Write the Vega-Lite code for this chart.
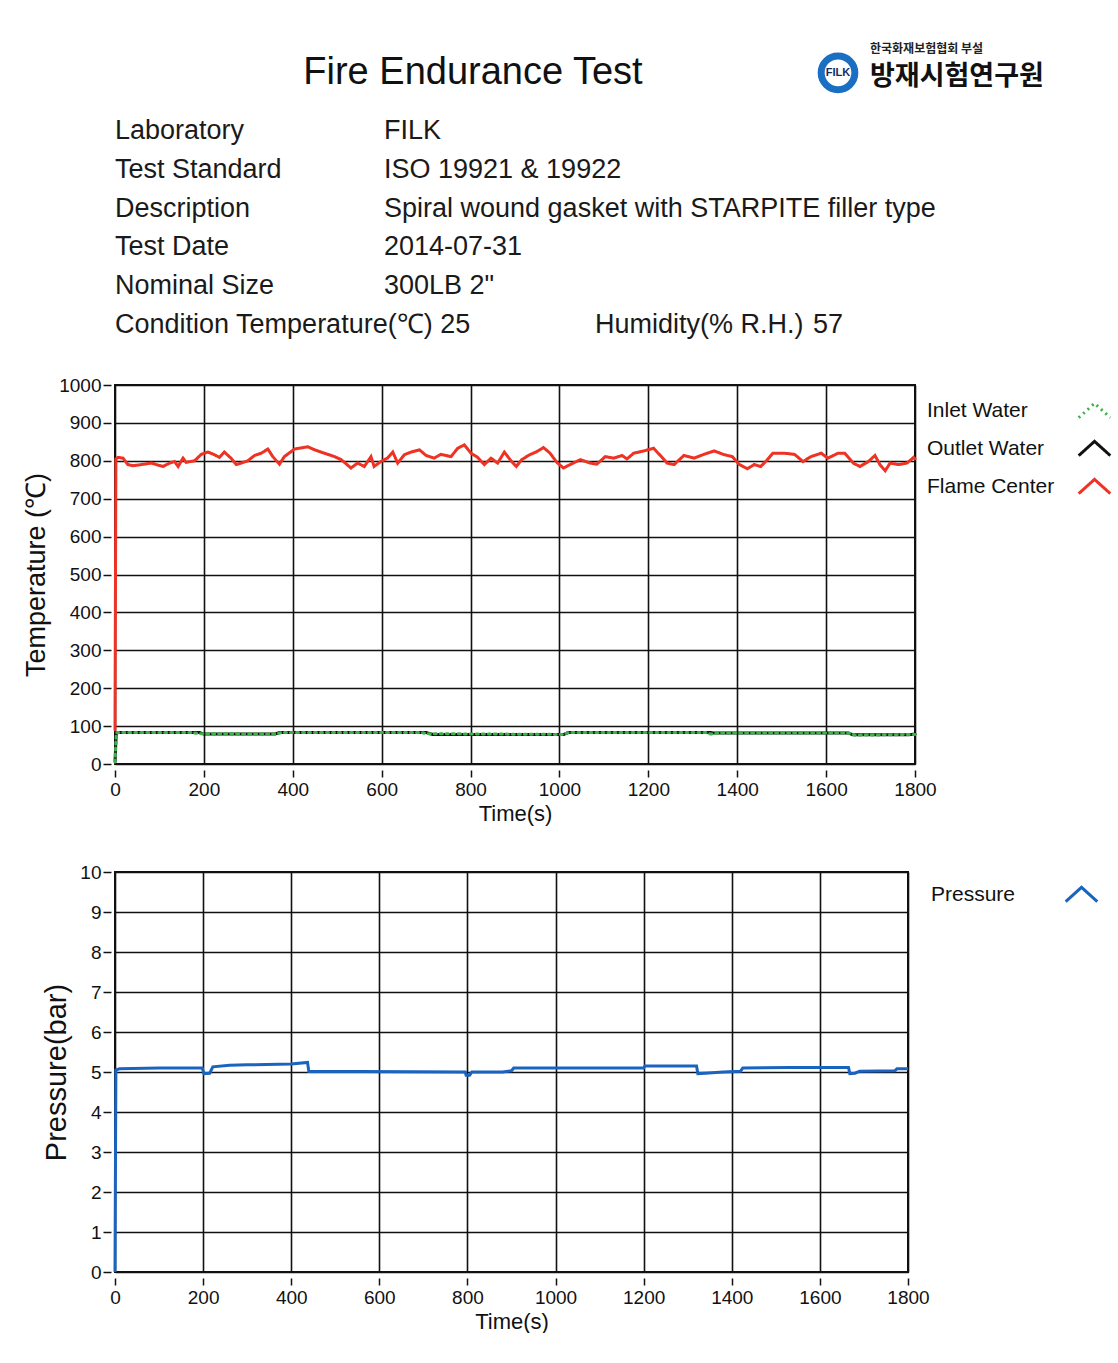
{
  "$schema": "https://vega.github.io/schema/vega-lite/v6.json",
  "background": "white",
  "padding": {"left": 21, "top": 34, "right": 0, "bottom": 0},
  "spacing": 37,
  "resolve": {
    "scale": {"color": "independent", "strokeDash": "independent"},
    "legend": {"color": "independent", "strokeDash": "independent"}
  },
  "config": {
    "font": "Liberation Sans",
    "view": {"stroke": "#111111", "strokeWidth": 2},
    "axis": {
      "domain": false,
      "grid": true,
      "gridColor": "#111111",
      "gridWidth": 1.6,
      "gridOpacity": 1,
      "tickColor": "#111111",
      "tickWidth": 1.5,
      "labelColor": "#111111",
      "titleColor": "#111111",
      "labelFont": "Liberation Sans",
      "labelFontSize": 19,
      "labelFlush": false,
      "format": "d",
      "titleFont": "Liberation Sans",
      "titleFontWeight": "normal"
    },
    "legend": {
      "labelFont": "Liberation Sans",
      "labelFontSize": 21,
      "labelColor": "#111111"
    }
  },
  "datasets": {
    "header": [
      {"kind": "title", "col": 2, "line": -0.5, "text": "Fire Endurance Test"},
      {"kind": "info", "col": 0, "line": 1, "text": "Laboratory"},
      {"kind": "info", "col": 1, "line": 1, "text": "FILK"},
      {"kind": "info", "col": 0, "line": 2, "text": "Test Standard"},
      {"kind": "info", "col": 1, "line": 2, "text": "ISO 19921 & 19922"},
      {"kind": "info", "col": 0, "line": 3, "text": "Description"},
      {"kind": "info", "col": 1, "line": 3, "text": "Spiral wound gasket with STARPITE filler type"},
      {"kind": "info", "col": 0, "line": 4, "text": "Test Date"},
      {"kind": "info", "col": 1, "line": 4, "text": "2014-07-31"},
      {"kind": "info", "col": 0, "line": 5, "text": "Nominal Size"},
      {"kind": "info", "col": 1, "line": 5, "text": "300LB 2\""},
      {"kind": "info", "col": 0, "line": 6, "text": "Condition Temperature(℃) 25"},
      {"kind": "info", "col": 3, "line": 6, "text": "Humidity(% R.H.)"},
      {"kind": "info", "col": 4, "line": 6, "text": "57"},
      {"kind": "ring", "col": 5, "line": -0.5, "text": "FILK"},
      {"kind": "logo", "col": 6, "line": -0.4, "text": "방재시험연구원"},
      {"kind": "logosmall", "col": 6, "line": -1.12, "text": "한국화재보험협회 부설"}
    ],
    "temp": [
      {"series": "Flame Center", "t": 0, "v": 90},
      {"series": "Flame Center", "t": 2, "v": 805},
      {"series": "Flame Center", "t": 7, "v": 809},
      {"series": "Flame Center", "t": 18, "v": 807},
      {"series": "Flame Center", "t": 29, "v": 790},
      {"series": "Flame Center", "t": 40, "v": 787},
      {"series": "Flame Center", "t": 59, "v": 790},
      {"series": "Flame Center", "t": 82, "v": 794},
      {"series": "Flame Center", "t": 93, "v": 790},
      {"series": "Flame Center", "t": 108, "v": 785},
      {"series": "Flame Center", "t": 123, "v": 794},
      {"series": "Flame Center", "t": 134, "v": 798},
      {"series": "Flame Center", "t": 142, "v": 785},
      {"series": "Flame Center", "t": 153, "v": 807},
      {"series": "Flame Center", "t": 160, "v": 796},
      {"series": "Flame Center", "t": 179, "v": 800},
      {"series": "Flame Center", "t": 194, "v": 817},
      {"series": "Flame Center", "t": 209, "v": 823},
      {"series": "Flame Center", "t": 224, "v": 816},
      {"series": "Flame Center", "t": 235, "v": 809},
      {"series": "Flame Center", "t": 246, "v": 823},
      {"series": "Flame Center", "t": 261, "v": 807},
      {"series": "Flame Center", "t": 273, "v": 790},
      {"series": "Flame Center", "t": 284, "v": 794},
      {"series": "Flame Center", "t": 299, "v": 800},
      {"series": "Flame Center", "t": 314, "v": 814},
      {"series": "Flame Center", "t": 329, "v": 820},
      {"series": "Flame Center", "t": 344, "v": 831},
      {"series": "Flame Center", "t": 355, "v": 811},
      {"series": "Flame Center", "t": 370, "v": 791},
      {"series": "Flame Center", "t": 381, "v": 811},
      {"series": "Flame Center", "t": 404, "v": 831},
      {"series": "Flame Center", "t": 434, "v": 837},
      {"series": "Flame Center", "t": 449, "v": 829},
      {"series": "Flame Center", "t": 471, "v": 820},
      {"series": "Flame Center", "t": 494, "v": 811},
      {"series": "Flame Center", "t": 509, "v": 803},
      {"series": "Flame Center", "t": 531, "v": 781},
      {"series": "Flame Center", "t": 546, "v": 794},
      {"series": "Flame Center", "t": 561, "v": 785},
      {"series": "Flame Center", "t": 576, "v": 811},
      {"series": "Flame Center", "t": 583, "v": 785},
      {"series": "Flame Center", "t": 598, "v": 798},
      {"series": "Flame Center", "t": 613, "v": 807},
      {"series": "Flame Center", "t": 625, "v": 823},
      {"series": "Flame Center", "t": 636, "v": 794},
      {"series": "Flame Center", "t": 651, "v": 816},
      {"series": "Flame Center", "t": 666, "v": 823},
      {"series": "Flame Center", "t": 685, "v": 829},
      {"series": "Flame Center", "t": 700, "v": 814},
      {"series": "Flame Center", "t": 718, "v": 807},
      {"series": "Flame Center", "t": 733, "v": 817},
      {"series": "Flame Center", "t": 756, "v": 811},
      {"series": "Flame Center", "t": 771, "v": 833},
      {"series": "Flame Center", "t": 786, "v": 842},
      {"series": "Flame Center", "t": 801, "v": 820},
      {"series": "Flame Center", "t": 816, "v": 809},
      {"series": "Flame Center", "t": 831, "v": 790},
      {"series": "Flame Center", "t": 846, "v": 807},
      {"series": "Flame Center", "t": 861, "v": 794},
      {"series": "Flame Center", "t": 876, "v": 823},
      {"series": "Flame Center", "t": 891, "v": 800},
      {"series": "Flame Center", "t": 903, "v": 785},
      {"series": "Flame Center", "t": 915, "v": 803},
      {"series": "Flame Center", "t": 933, "v": 816},
      {"series": "Flame Center", "t": 949, "v": 824},
      {"series": "Flame Center", "t": 964, "v": 835},
      {"series": "Flame Center", "t": 979, "v": 820},
      {"series": "Flame Center", "t": 994, "v": 796},
      {"series": "Flame Center", "t": 1009, "v": 781},
      {"series": "Flame Center", "t": 1024, "v": 790},
      {"series": "Flame Center", "t": 1047, "v": 803},
      {"series": "Flame Center", "t": 1069, "v": 794},
      {"series": "Flame Center", "t": 1084, "v": 791},
      {"series": "Flame Center", "t": 1103, "v": 811},
      {"series": "Flame Center", "t": 1122, "v": 807},
      {"series": "Flame Center", "t": 1141, "v": 814},
      {"series": "Flame Center", "t": 1152, "v": 805},
      {"series": "Flame Center", "t": 1167, "v": 820},
      {"series": "Flame Center", "t": 1190, "v": 826},
      {"series": "Flame Center", "t": 1212, "v": 833},
      {"series": "Flame Center", "t": 1227, "v": 814},
      {"series": "Flame Center", "t": 1242, "v": 794},
      {"series": "Flame Center", "t": 1258, "v": 790},
      {"series": "Flame Center", "t": 1280, "v": 814},
      {"series": "Flame Center", "t": 1303, "v": 807},
      {"series": "Flame Center", "t": 1325, "v": 817},
      {"series": "Flame Center", "t": 1348, "v": 826},
      {"series": "Flame Center", "t": 1371, "v": 816},
      {"series": "Flame Center", "t": 1389, "v": 811},
      {"series": "Flame Center", "t": 1405, "v": 790},
      {"series": "Flame Center", "t": 1423, "v": 779},
      {"series": "Flame Center", "t": 1438, "v": 790},
      {"series": "Flame Center", "t": 1453, "v": 785},
      {"series": "Flame Center", "t": 1468, "v": 803},
      {"series": "Flame Center", "t": 1480, "v": 820},
      {"series": "Flame Center", "t": 1506, "v": 820},
      {"series": "Flame Center", "t": 1529, "v": 817},
      {"series": "Flame Center", "t": 1548, "v": 798},
      {"series": "Flame Center", "t": 1566, "v": 811},
      {"series": "Flame Center", "t": 1589, "v": 820},
      {"series": "Flame Center", "t": 1604, "v": 807},
      {"series": "Flame Center", "t": 1627, "v": 820},
      {"series": "Flame Center", "t": 1642, "v": 820},
      {"series": "Flame Center", "t": 1661, "v": 794},
      {"series": "Flame Center", "t": 1676, "v": 785},
      {"series": "Flame Center", "t": 1695, "v": 798},
      {"series": "Flame Center", "t": 1710, "v": 814},
      {"series": "Flame Center", "t": 1721, "v": 790},
      {"series": "Flame Center", "t": 1733, "v": 774},
      {"series": "Flame Center", "t": 1744, "v": 794},
      {"series": "Flame Center", "t": 1763, "v": 790},
      {"series": "Flame Center", "t": 1782, "v": 794},
      {"series": "Flame Center", "t": 1797, "v": 809},
      {"series": "Flame Center", "t": 1800, "v": 805},
      {"series": "Outlet Water", "t": 0, "v": 8},
      {"series": "Outlet Water", "t": 3, "v": 83},
      {"series": "Outlet Water", "t": 190, "v": 83},
      {"series": "Outlet Water", "t": 200, "v": 79},
      {"series": "Outlet Water", "t": 360, "v": 79},
      {"series": "Outlet Water", "t": 370, "v": 83},
      {"series": "Outlet Water", "t": 700, "v": 83},
      {"series": "Outlet Water", "t": 715, "v": 78},
      {"series": "Outlet Water", "t": 1010, "v": 78},
      {"series": "Outlet Water", "t": 1020, "v": 83},
      {"series": "Outlet Water", "t": 1340, "v": 83},
      {"series": "Outlet Water", "t": 1345, "v": 82},
      {"series": "Outlet Water", "t": 1650, "v": 82},
      {"series": "Outlet Water", "t": 1660, "v": 77},
      {"series": "Outlet Water", "t": 1785, "v": 77},
      {"series": "Outlet Water", "t": 1800, "v": 79},
      {"series": "Inlet Water", "t": 0, "v": 5},
      {"series": "Inlet Water", "t": 3, "v": 83},
      {"series": "Inlet Water", "t": 170, "v": 83},
      {"series": "Inlet Water", "t": 190, "v": 80},
      {"series": "Inlet Water", "t": 360, "v": 79},
      {"series": "Inlet Water", "t": 375, "v": 83},
      {"series": "Inlet Water", "t": 690, "v": 83},
      {"series": "Inlet Water", "t": 700, "v": 80},
      {"series": "Inlet Water", "t": 1010, "v": 78},
      {"series": "Inlet Water", "t": 1020, "v": 83},
      {"series": "Inlet Water", "t": 1330, "v": 83},
      {"series": "Inlet Water", "t": 1340, "v": 79},
      {"series": "Inlet Water", "t": 1360, "v": 82},
      {"series": "Inlet Water", "t": 1650, "v": 82},
      {"series": "Inlet Water", "t": 1665, "v": 76},
      {"series": "Inlet Water", "t": 1800, "v": 78}
    ],
    "pressure": [
      {"series": "Pressure", "t": 0, "p": 0},
      {"series": "Pressure", "t": 2, "p": 5.05},
      {"series": "Pressure", "t": 10, "p": 5.08},
      {"series": "Pressure", "t": 100, "p": 5.1},
      {"series": "Pressure", "t": 198, "p": 5.1},
      {"series": "Pressure", "t": 202, "p": 4.96},
      {"series": "Pressure", "t": 215, "p": 4.97},
      {"series": "Pressure", "t": 222, "p": 5.13},
      {"series": "Pressure", "t": 260, "p": 5.17},
      {"series": "Pressure", "t": 300, "p": 5.18},
      {"series": "Pressure", "t": 400, "p": 5.2},
      {"series": "Pressure", "t": 437, "p": 5.24},
      {"series": "Pressure", "t": 440, "p": 5.01},
      {"series": "Pressure", "t": 560, "p": 5.01},
      {"series": "Pressure", "t": 795, "p": 5.0},
      {"series": "Pressure", "t": 797, "p": 4.92},
      {"series": "Pressure", "t": 805, "p": 4.92},
      {"series": "Pressure", "t": 810, "p": 5.0},
      {"series": "Pressure", "t": 880, "p": 5.0},
      {"series": "Pressure", "t": 900, "p": 5.03},
      {"series": "Pressure", "t": 905, "p": 5.1},
      {"series": "Pressure", "t": 1200, "p": 5.1},
      {"series": "Pressure", "t": 1203, "p": 5.15},
      {"series": "Pressure", "t": 1320, "p": 5.15},
      {"series": "Pressure", "t": 1323, "p": 4.96},
      {"series": "Pressure", "t": 1340, "p": 4.97},
      {"series": "Pressure", "t": 1380, "p": 5.0},
      {"series": "Pressure", "t": 1420, "p": 5.02},
      {"series": "Pressure", "t": 1425, "p": 5.1},
      {"series": "Pressure", "t": 1530, "p": 5.11},
      {"series": "Pressure", "t": 1665, "p": 5.11},
      {"series": "Pressure", "t": 1668, "p": 4.96},
      {"series": "Pressure", "t": 1680, "p": 4.97},
      {"series": "Pressure", "t": 1690, "p": 5.02},
      {"series": "Pressure", "t": 1770, "p": 5.03},
      {"series": "Pressure", "t": 1775, "p": 5.08},
      {"series": "Pressure", "t": 1800, "p": 5.08}
    ]
  },
  "vconcat": [
    {
      "width": 800,
      "height": 301,
      "view": {"stroke": null},
      "data": {"name": "header"},
      "encoding": {
        "x": {"field": "col", "type": "quantitative", "axis": null,
              "scale": {"domain": [0, 1, 2, 3, 4, 5, 6], "range": [0, 269, 358, 480, 698, 723, 755], "nice": false, "zero": false}},
        "y": {"field": "line", "type": "quantitative", "axis": null,
              "scale": {"domain": [-1.5, 6.258], "reverse": true, "nice": false, "zero": false}},
        "text": {"field": "text"}
      },
      "layer": [
        {"transform": [{"filter": "datum.kind == 'info'"}],
         "mark": {"type": "text", "align": "left", "baseline": "middle", "fontSize": 27, "font": "Liberation Sans", "color": "#1a1a1a"}},
        {"transform": [{"filter": "datum.kind == 'title'"}],
         "mark": {"type": "text", "align": "center", "baseline": "middle", "fontSize": 38, "font": "Liberation Sans", "color": "#111111"}},
        {"transform": [{"filter": "datum.kind == 'ring'"}],
         "mark": {"type": "point", "shape": "circle", "size": 1134, "fill": "white", "stroke": "#1b6fc2", "strokeWidth": 7, "opacity": 1, "filled": false}},
        {"transform": [{"filter": "datum.kind == 'ring'"}],
         "mark": {"type": "text", "align": "center", "baseline": "middle", "fontSize": 11, "fontWeight": "bold", "font": "Liberation Sans", "color": "#0d2f66"}},
        {"transform": [{"filter": "datum.kind == 'logo'"}],
         "mark": {"type": "text", "align": "left", "baseline": "middle", "fontSize": 27, "fontWeight": "bold", "font": "Noto Sans CJK KR", "color": "#111111"}},
        {"transform": [{"filter": "datum.kind == 'logosmall'"}],
         "mark": {"type": "text", "align": "left", "baseline": "middle", "fontSize": 12, "fontWeight": "bold", "font": "Noto Sans CJK KR", "color": "#222222"}}
      ]
    },
    {
      "width": 800,
      "height": 379,
      "data": {"name": "temp"},
      "mark": {"type": "line", "strokeWidth": 3, "interpolate": "linear", "strokeCap": "round"},
      "encoding": {
        "x": {"field": "t", "type": "quantitative",
              "scale": {"domain": [0, 1800], "nice": false, "zero": false},
              "axis": {"values": [0, 200, 400, 600, 800, 1000, 1200, 1400, 1600, 1800], "title": "Time(s)", "titleFontSize": 22, "offset": 6, "tickSize": 7, "labelPadding": 3, "titlePadding": 4}},
        "y": {"field": "v", "type": "quantitative",
              "scale": {"domain": [0, 1000], "nice": false},
              "axis": {"values": [0, 100, 200, 300, 400, 500, 600, 700, 800, 900, 1000], "title": "Temperature (℃)", "titleFontSize": 27, "offset": 4, "tickSize": 8, "labelPadding": 2, "titlePadding": 8}},
        "color": {"field": "series", "type": "nominal",
                  "scale": {"domain": ["Inlet Water", "Outlet Water", "Flame Center"], "range": ["#3db24b", "#111111", "#ee3224"]},
                  "legend": {"title": null, "orient": "right", "offset": 0, "labelOffset": -185, "symbolOffset": 148, "symbolType": "M-1,0.45L0,-0.45L1,0.45", "symbolSize": 1000, "symbolStrokeWidth": 3, "rowPadding": 7, "padding": 8}},
        "strokeDash": {"field": "series", "type": "nominal",
                  "scale": {"domain": ["Inlet Water", "Outlet Water", "Flame Center"], "range": [[2, 4], [1, 0], [1, 0]]},
                  "legend": {"title": null, "orient": "right", "offset": 0, "labelOffset": -185, "symbolOffset": 148, "symbolType": "M-1,0.45L0,-0.45L1,0.45", "symbolSize": 1000, "symbolStrokeWidth": 3, "rowPadding": 7, "padding": 8}}
      }
    },
    {
      "width": 793,
      "height": 400,
      "data": {"name": "pressure"},
      "mark": {"type": "line", "strokeWidth": 3, "interpolate": "linear"},
      "encoding": {
        "x": {"field": "t", "type": "quantitative",
              "scale": {"domain": [0, 1800], "nice": false, "zero": false},
              "axis": {"values": [0, 200, 400, 600, 800, 1000, 1200, 1400, 1600, 1800], "title": "Time(s)", "titleFontSize": 22, "offset": 6, "tickSize": 7, "labelPadding": 3, "titlePadding": 4}},
        "y": {"field": "p", "type": "quantitative",
              "scale": {"domain": [0, 10], "nice": false},
              "axis": {"values": [0, 1, 2, 3, 4, 5, 6, 7, 8, 9, 10], "title": "Pressure(bar)", "titleFontSize": 29, "offset": 4, "tickSize": 8, "labelPadding": 2, "titlePadding": 8}},
        "color": {"field": "series", "type": "nominal",
                  "scale": {"domain": ["Pressure"], "range": ["#1a64c0"]},
                  "legend": {"title": null, "orient": "right", "offset": 0, "labelOffset": -168, "symbolOffset": 145, "symbolType": "M-1,0.45L0,-0.45L1,0.45", "symbolSize": 1000, "symbolStrokeWidth": 3, "padding": 5}}
      }
    }
  ]
}
